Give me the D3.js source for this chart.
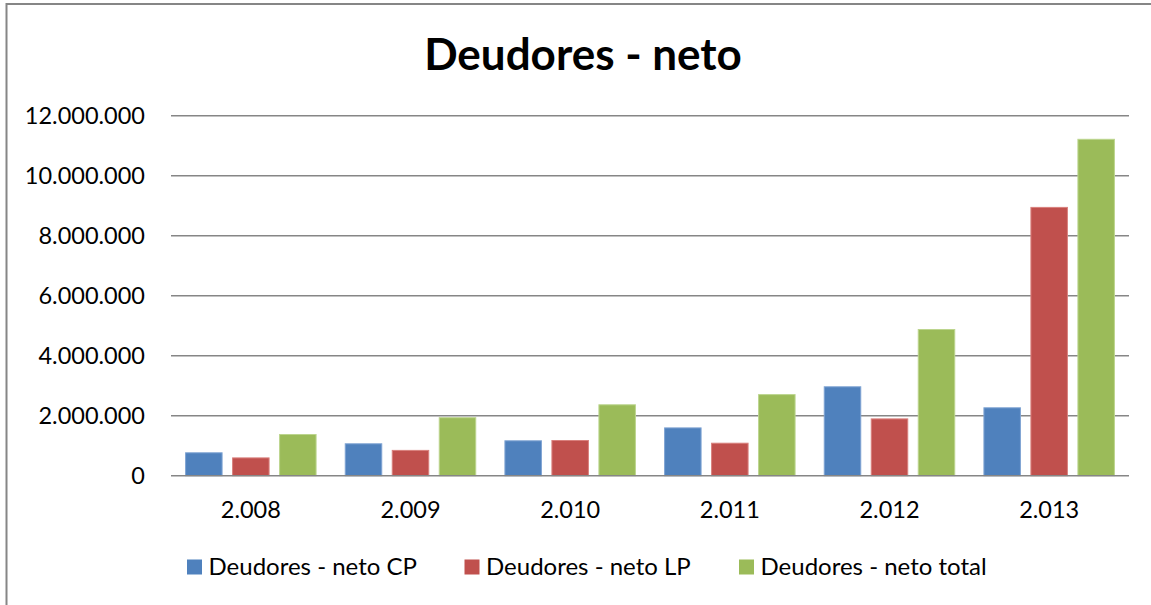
<!DOCTYPE html>
<html>
<head>
<meta charset="utf-8">
<script src="https://cdn.jsdelivr.net/npm/d3@7"></script>
<style>
  html, body { margin: 0; padding: 0; background: #fff; }
  svg { display: block; font-family: Lato, "Open Sans", sans-serif; }
</style>
</head>
<body>
<svg id="chart" width="1151" height="605"></svg>
<script>
const years = ["2.008", "2.009", "2.010", "2.011", "2.012", "2.013"];
const seriesNames = ["Deudores - neto CP", "Deudores - neto LP", "Deudores - neto total"];
const cpValues = [780000, 1080000, 1180000, 1610000, 2980000, 2280000];
const lpValues = [610000, 860000, 1190000, 1100000, 1910000, 8960000];
const totalValues = [1390000, 1950000, 2380000, 2720000, 4890000, 11230000];
const yTicks = [0, 2000000, 4000000, 6000000, 8000000, 10000000, 12000000];
const colors = ["#4F81BD", "#C0504D", "#9BBB59"];
const strokeColors = ["#7FA3D3", "#D9807D", "#BCD58E"];
const titleText = "Deudores - neto";

const seriesValues = [cpValues, lpValues, totalValues];
const svg = d3.select("#chart");
const W = 1151, H = 605;

// Outer border
svg.append("rect")
  .attr("x", 6.5).attr("y", 4).attr("width", W + 10).attr("height", H + 10)
  .attr("fill", "#fff").attr("stroke", "#868686").attr("stroke-width", 2);

const plotLeft = 171, plotRight = 1129, plotTop = 115.7, plotBottom = 475.7;

const x0 = d3.scaleBand().domain(years).range([plotLeft, plotRight])
  .paddingInner(0.1764).paddingOuter(0.0882);
const x1 = d3.scaleBand().domain(seriesNames).range([0, x0.bandwidth()])
  .paddingInner(0.202).paddingOuter(0);
const y = d3.scaleLinear().domain([0, 12000000]).range([plotBottom, plotTop]);

const locale = d3.formatLocale({ decimal: ",", thousands: ".", grouping: [3], currency: ["", ""] });
const fmt = locale.format(",d");

// Title
svg.append("text")
  .attr("x", 583).attr("y", 69.5)
  .attr("text-anchor", "middle")
  .attr("font-size", 44).attr("font-weight", "bold").attr("fill", "#000")
  .text(titleText);

// Gridlines
svg.append("g").selectAll("line").data(yTicks.filter(d => d > 0)).join("line")
  .attr("x1", plotLeft).attr("x2", plotRight)
  .attr("y1", d => y(d)).attr("y2", d => y(d))
  .attr("stroke", "#868686").attr("stroke-width", 1.5);

// Y axis labels
const yAxis = d3.axisLeft(y).tickValues(yTicks).tickFormat(fmt).tickSize(0).tickPadding(0);
const gy = svg.append("g").attr("transform", `translate(145,0)`).call(yAxis);
gy.select(".domain").remove();
gy.selectAll("text").attr("font-size", 23.5).attr("fill", "#000")
  .attr("font-family", "Lato, 'Open Sans', sans-serif");

// Bars
const groups = svg.append("g").selectAll("g").data(years).join("g")
  .attr("transform", d => `translate(${x0(d)},0)`);
groups.selectAll("rect")
  .data((d, i) => seriesNames.map((s, k) => ({ s, k, v: seriesValues[k][i] })))
  .join("rect")
  .attr("x", d => x1(d.s) + 0.5)
  .attr("width", x1.bandwidth() - 1)
  .attr("y", d => y(d.v) + 0.5)
  .attr("height", d => plotBottom - y(d.v) - 0.5)
  .attr("fill", d => colors[d.k])
  .attr("stroke", d => strokeColors[d.k]).attr("stroke-width", 1);

// Baseline
svg.append("line")
  .attr("x1", plotLeft).attr("x2", plotRight)
  .attr("y1", y(0)).attr("y2", y(0))
  .attr("stroke", "#868686").attr("stroke-width", 1.5);

// X axis labels
const xAxis = d3.axisBottom(x0).tickSize(0).tickPadding(0);
const gx = svg.append("g").attr("transform", `translate(0,${plotBottom})`).call(xAxis);
gx.select(".domain").remove();
gx.selectAll("text").attr("font-size", 23.5).attr("fill", "#000")
  .attr("font-family", "Lato, 'Open Sans', sans-serif")
  .attr("dy", null).attr("y", 42.5);

// Legend
const legendX = [187, 464.5, 739];
const lg = svg.append("g").selectAll("g").data(seriesNames).join("g")
  .attr("transform", (d, i) => `translate(${legendX[i]},0)`);
lg.append("rect").attr("x", 0).attr("y", 559.5).attr("width", 15).attr("height", 15)
  .attr("fill", (d, i) => colors[i]);
lg.append("text").attr("x", 21.5).attr("y", 575).attr("font-size", 24).attr("fill", "#000")
  .text(d => d);
</script>
</body>
</html>
